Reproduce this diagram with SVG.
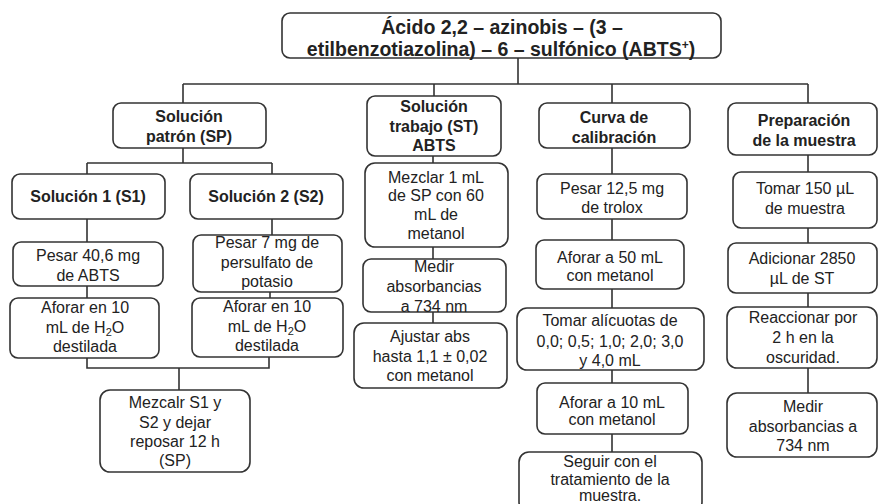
<svg xmlns="http://www.w3.org/2000/svg" width="879" height="504" viewBox="0 0 879 504">
<style>
.box{fill:#fff;stroke:#333;stroke-width:1.6}
.conn{fill:none;stroke:#333;stroke-width:1.6}
text{font-family:"Liberation Sans",Arial,sans-serif;font-size:16px;fill:#222;text-anchor:middle}
.b{font-weight:bold}
.title{font-size:19.5px;font-weight:bold}
</style>
<rect width="879" height="504" fill="#fff"/>
<g id="connectors">
<path class="conn" d="M518,58V84M183,84H808M183,84V103M434,84V96M612,84V103M808,84V103"/>
<path class="conn" d="M183,148V163M87,163H272M87,163V174M272,163V174"/>
<path class="conn" d="M87,219V242M87,286V298M272,219V235M270,292V298"/>
<path class="conn" d="M87,358V368H269V357M179,368V390"/>
<path class="conn" d="M433,156V163M433,247V259M433,312V323"/>
<path class="conn" d="M612,148V174M612,219V240M612,289V308M612,370V383M612,434V452"/>
<path class="conn" d="M808,155V172M808,228V243M808,293V307M808,368V393"/>
</g>
<g id="title">
<rect class="box" x="282" y="13" width="439" height="45" rx="8"/>
<text class="title" x="502" y="34">Ácido 2,2 – azinobis – (3 –</text>
<text class="title" x="501" y="56">etilbenzotiazolina) – 6 – sulfónico  (ABTS<tspan font-size="12" dy="-7">+</tspan><tspan dy="7">)</tspan></text>
</g>
<g id="sp">
<rect class="box" x="113" y="103" width="153" height="45" rx="8"/>
<text class="b" x="189" y="122">Solución</text>
<text class="b" x="189" y="142">patrón (SP)</text>
</g>
<g id="s1">
<rect class="box" x="12" y="174" width="153" height="45" rx="8"/>
<text class="b" x="88" y="202">Solución 1 (S1)</text>
</g>
<g id="s2">
<rect class="box" x="190" y="174" width="153" height="45" rx="8"/>
<text class="b" x="266" y="202">Solución 2 (S2)</text>
</g>
<g id="s1-pesar">
<rect class="box" x="13" y="242" width="150" height="44" rx="8"/>
<text x="88" y="261">Pesar 40,6 mg</text>
<text x="88" y="281">de ABTS</text>
</g>
<g id="s1-aforar">
<rect class="box" x="10" y="298" width="149" height="60" rx="8"/>
<text x="85" y="313">Aforar en 10</text>
<text x="85" y="333">mL de H<tspan font-size="11" dy="3">2</tspan><tspan dy="-3">O</tspan></text>
<text x="85" y="352">destilada</text>
</g>
<g id="s2-pesar">
<rect class="box" x="193" y="235" width="149" height="57" rx="8"/>
<text x="267" y="248">Pesar 7 mg de</text>
<text x="267" y="268">persulfato de</text>
<text x="267" y="287">potasio</text>
</g>
<g id="s2-aforar">
<rect class="box" x="192" y="298" width="151" height="59" rx="8"/>
<text x="267" y="312">Aforar en 10</text>
<text x="267" y="332">mL de H<tspan font-size="11" dy="3">2</tspan><tspan dy="-3">O</tspan></text>
<text x="267" y="351">destilada</text>
</g>
<g id="mezclar-sp">
<rect class="box" x="100" y="390" width="150" height="82" rx="10"/>
<text x="175" y="408">Mezcalr S1 y</text>
<text x="175" y="428">S2 y dejar</text>
<text x="175" y="447">reposar 12 h</text>
<text x="175" y="466">(SP)</text>
</g>
<g id="st">
<rect class="box" x="367" y="96" width="134" height="60" rx="8"/>
<text class="b" x="434" y="112">Solución</text>
<text class="b" x="434" y="132">trabajo (ST)</text>
<text class="b" x="434" y="151">ABTS</text>
</g>
<g id="st-mezclar">
<rect class="box" x="365" y="163" width="143" height="84" rx="10"/>
<text x="436" y="183">Mezclar 1 mL</text>
<text x="436" y="201">de SP con 60</text>
<text x="436" y="220">mL de</text>
<text x="436" y="239">metanol</text>
</g>
<g id="st-medir">
<rect class="box" x="363" y="259" width="143" height="53" rx="8"/>
<text x="434" y="272">Medir</text>
<text x="434" y="292">absorbancias</text>
<text x="434" y="312">a 734 nm</text>
</g>
<g id="st-ajustar">
<rect class="box" x="354" y="323" width="153" height="65" rx="10"/>
<text x="430" y="342">Ajustar abs</text>
<text x="430" y="362">hasta 1,1 ± 0,02</text>
<text x="430" y="381">con metanol</text>
</g>
<g id="curva">
<rect class="box" x="539" y="103" width="151" height="45" rx="8"/>
<text class="b" x="614" y="123">Curva de</text>
<text class="b" x="614" y="143">calibración</text>
</g>
<g id="curva-pesar">
<rect class="box" x="537" y="174" width="150" height="45" rx="8"/>
<text x="612" y="194">Pesar 12,5 mg</text>
<text x="612" y="213">de trolox</text>
</g>
<g id="curva-aforar50">
<rect class="box" x="536" y="240" width="148" height="49" rx="8"/>
<text x="610" y="263">Aforar a 50 mL</text>
<text x="610" y="281">con metanol</text>
</g>
<g id="curva-tomar">
<rect class="box" x="517" y="308" width="187" height="62" rx="10"/>
<text x="610" y="326">Tomar  alícuotas de</text>
<text x="610" y="347">0,0; 0,5; 1,0; 2,0; 3,0</text>
<text x="610" y="366">y 4,0 mL</text>
</g>
<g id="curva-aforar10">
<rect class="box" x="537" y="383" width="151" height="51" rx="8"/>
<text x="612" y="408">Aforar a 10 mL</text>
<text x="612" y="425">con metanol</text>
</g>
<g id="curva-seguir">
<rect class="box" x="519" y="452" width="183" height="60" rx="10"/>
<text x="610" y="467">Seguir con el</text>
<text x="610" y="485">tratamiento de la</text>
<text x="610" y="501">muestra.</text>
</g>
<g id="prep">
<rect class="box" x="728" y="103" width="149" height="52" rx="8"/>
<text class="b" x="804" y="126">Preparación</text>
<text class="b" x="804" y="146">de la muestra</text>
</g>
<g id="prep-tomar">
<rect class="box" x="733" y="172" width="144" height="56" rx="8"/>
<text x="805" y="194">Tomar 150 µL</text>
<text x="805" y="214">de muestra</text>
</g>
<g id="prep-adicionar">
<rect class="box" x="728" y="243" width="149" height="50" rx="8"/>
<text x="802" y="264">Adicionar 2850</text>
<text x="802" y="284">µL de ST</text>
</g>
<g id="prep-reaccionar">
<rect class="box" x="727" y="307" width="150" height="61" rx="10"/>
<text x="803" y="323">Reaccionar por</text>
<text x="803" y="343">2 h en la</text>
<text x="803" y="363">oscuridad.</text>
</g>
<g id="prep-medir">
<rect class="box" x="727" y="393" width="150" height="64" rx="10"/>
<text x="803" y="412">Medir</text>
<text x="803" y="432">absorbancias a</text>
<text x="803" y="451">734 nm</text>
</g>
</svg>
